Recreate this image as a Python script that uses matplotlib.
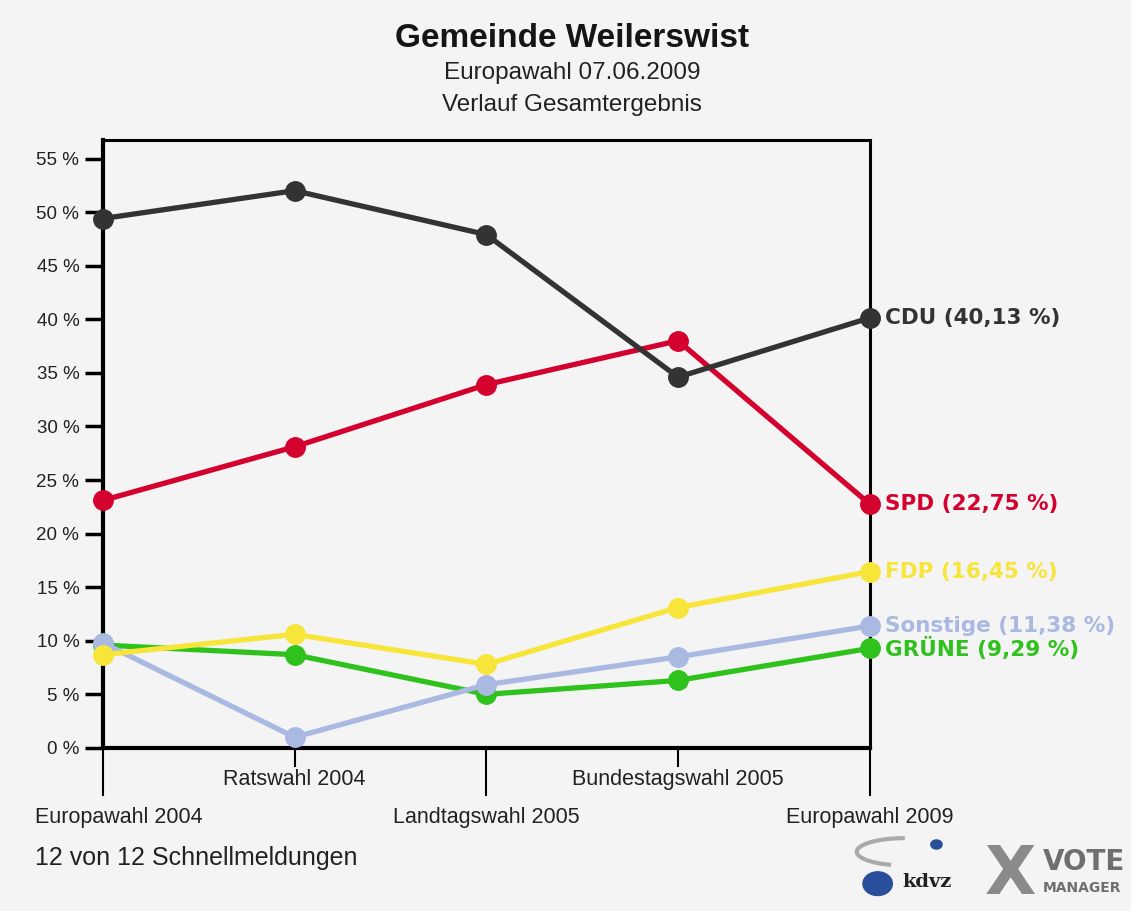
import numpy as np
import matplotlib
matplotlib.use("Agg")
import matplotlib.pyplot as plt
from matplotlib.patches import Circle, Arc

# Daten
wahlen = ["Europawahl 2004", "Ratswahl 2004", "Landtagswahl 2005",
          "Bundestagswahl 2005", "Europawahl 2009"]
parteien = ["CDU", "SPD", "FDP", "Sonstige", "GRÜNE"]
cdu = [49.4, 52.0, 47.9, 34.6, 40.13]
spd = [23.1, 28.1, 33.9, 38.0, 22.75]
fdp = [8.7, 10.6, 7.8, 13.1, 16.45]
sonstige = [9.8, 1.0, 5.9, 8.5, 11.38]
gruene = [9.6, 8.7, 5.0, 6.3, 9.29]
farben = ["#333333", "#d4002e", "#f7e53a", "#a9b9e2", "#2fc21c"]
yticks = list(range(0, 60, 5))

bg = "#f4f4f4"
plt.rcParams['font.family'] = ['Liberation Sans', 'DejaVu Sans']

fig = plt.figure(figsize=(11.31, 9.11), dpi=100, facecolor=bg)
ax = fig.add_axes([0.091, 0.179, 0.678, 0.667], facecolor=bg)

x = np.arange(len(wahlen))
werte = [cdu, spd, fdp, sonstige, gruene]
# kleine Parteien zuerst zeichnen
for idx in [4, 3, 2, 1, 0]:
    ax.plot(x, werte[idx], color=farben[idx], lw=3.8, marker='o', ms=14,
            solid_capstyle='round', zorder=3 + (idx == 0), clip_on=False)

# Beschriftung am Ende der Linien
for name, w, c in zip(parteien, werte, farben):
    wert = f"{w[-1]:.2f}".replace(".", ",")
    ax.annotate(f"{name} ({wert} %)", xy=(x[-1], w[-1]), xytext=(11, 0),
                textcoords='offset points', va='center', ha='left',
                color=c, fontsize=15.5, fontweight='bold',
                family=['DejaVu Sans'], annotation_clip=False)

ax.set_xlim(0, 4)
ax.set_ylim(0, 56.7)
ax.set_yticks(yticks)
ax.set_yticklabels([f"{t} %" for t in yticks], fontsize=13.5, color="#222222")
ax.tick_params(axis='y', length=13, width=2.5, direction='out', pad=4)

ax.set_xticks(x)
ax.set_xticklabels([])
ax.tick_params(axis='x', length=0)
for i, name in enumerate(wahlen):
    lang = i % 2 == 0
    ax.plot([i, i], [0, -4.4 if lang else -1.7], color='black', lw=1.5,
            clip_on=False, zorder=1)
    xt = i + (0.085 if i == 0 else 0)
    ax.text(xt, -6.5 if lang else -2.9, name, ha='center', va='center',
            fontsize=15.5, color="#222222")

for s in ['left', 'bottom']:
    ax.spines[s].set_linewidth(3)
for s in ['top', 'right']:
    ax.spines[s].set_linewidth(2.2)

# Titel
fig.text(0.506, 0.958, "Gemeinde Weilerswist", ha='center', va='center',
         fontsize=24, fontweight='bold', color="#151515")
fig.text(0.506, 0.920, "Europawahl 07.06.2009", ha='center', va='center',
         fontsize=17.5, color="#222222")
fig.text(0.506, 0.885, "Verlauf Gesamtergebnis", ha='center', va='center',
         fontsize=17.5, color="#222222")

fig.text(0.031, 0.058, "12 von 12 Schnellmeldungen", ha='left', va='center',
         fontsize=18, color="#222222")

# Logos (vereinfacht)
fig.patches.append(Arc((0.80, 0.065), 0.085, 0.03, theta1=90, theta2=230,
                       transform=fig.transFigure, color="#aaaaaa", lw=3))
fig.patches.append(Circle((0.828, 0.073), 0.005, transform=fig.transFigure,
                          color="#2a4f9a", zorder=5))
fig.patches.append(Circle((0.776, 0.030), 0.013, transform=fig.transFigure,
                          color="#2a4f9a", zorder=5))
fig.text(0.798, 0.032, "kdvz", fontsize=14, fontweight='bold',
         color="#222222", va='center', family=['DejaVu Serif'])
fig.text(0.893, 0.040, "X", fontsize=48, fontweight='bold', color="#8a8a8a",
         ha='center', va='center', family=['DejaVu Sans'])
fig.text(0.922, 0.054, "VOTE", fontsize=20, fontweight='bold',
         color="#6f6f6f", va='center', family=['DejaVu Sans'])
fig.text(0.922, 0.025, "MANAGER", fontsize=10, fontweight='bold',
         color="#6f6f6f", va='center', family=['DejaVu Sans'])

fig.savefig("out.png", dpi=100, facecolor=bg)
